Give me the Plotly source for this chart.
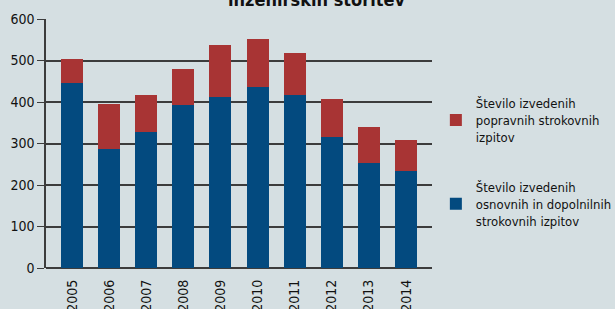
import plotly.graph_objects as go

years = ["2005", "2006", "2007", "2008", "2009", "2010", "2011", "2012", "2013", "2014"]
osnovni = [445, 286, 327, 392, 412, 436, 417, 315, 252, 233]
totals = [503, 395, 417, 479, 537, 551, 518, 407, 340, 308]
popravni = [t - o for t, o in zip(totals, osnovni)]

name_blue = "Število izvedenih<br>osnovnih in dopolnilnih<br>strokovnih izpitov"
name_red = "Število izvedenih<br>popravnih strokovnih<br>izpitov"
title_text = "inženirskih storitev"

FONT = "DejaVu Sans Condensed, Liberation Sans Narrow, sans-serif"
BG = "#d5dfe2"
INK = "#111111"
GRID = "#3c3c3c"

fig = go.Figure()
fig.add_trace(go.Bar(x=years, y=osnovni, name=name_blue, marker_color="#034a7f",
                     marker_line_width=0, width=0.59, legendgroup="b", legendrank=2))
fig.add_trace(go.Bar(x=years, y=popravni, name=name_red, marker_color="#a83434",
                     marker_line_width=0, width=0.59, legendgroup="r", legendrank=1))

fig.update_layout(
    barmode="stack",
    width=615, height=309,
    margin=dict(l=46, r=183, t=19, b=41, autoexpand=False),
    paper_bgcolor=BG, plot_bgcolor=BG,
    font=dict(family=FONT, size=13, color=INK),
    showlegend=True,
    legend=dict(x=1.01, y=0.722, xanchor="left", yanchor="top",
                traceorder="grouped", tracegroupgap=30,
                font=dict(family=FONT, size=13, color=INK),
                bgcolor="rgba(0,0,0,0)", itemwidth=30),
    xaxis=dict(type="category", range=[-0.7, 9.7], tickangle=-90,
               showline=False, showgrid=False, ticks="", ticklabelstandoff=8,
               tickfont=dict(family=FONT, size=14, color=INK)),
    yaxis=dict(range=[0, 600], dtick=100, showgrid=True, gridcolor=GRID,
               gridwidth=1.5, zeroline=True, zerolinecolor=GRID, zerolinewidth=1.5,
               showline=True, linecolor=GRID, linewidth=1.5,
               ticks="outside", ticklen=7, tickcolor=GRID, tickwidth=1.2,
               tickfont=dict(family=FONT, size=14, color=INK)),
    annotations=[dict(text="<b>" + title_text + "</b>", xref="paper", yref="paper",
                      x=0.70, y=1.0, yshift=7, xanchor="center", yanchor="bottom",
                      showarrow=False, font=dict(family=FONT, size=18, color=INK))],
    shapes=[dict(type="line", xref="paper", yref="y", x0=0, x1=0, y0=0, y1=-7,
                 ysizemode="pixel", yanchor=0, line=dict(color=GRID, width=1.5))],
)

fig.write_html("out.html", config={"displayModeBar": False},
               post_script="document.body.style.margin='0';document.body.style.background='%s';" % BG)
